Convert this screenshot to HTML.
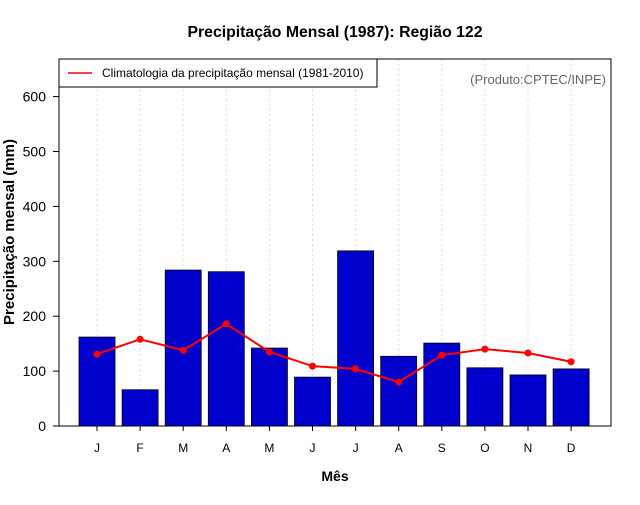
<!DOCTYPE html>
<html><head><meta charset="utf-8"><style>
body{margin:0;background:#fff;}
svg text{font-family:"Liberation Sans",sans-serif;}
</style></head><body>
<svg id="chart" width="640" height="500" xmlns="http://www.w3.org/2000/svg">
<rect width="640" height="500" fill="#fff"/>
<text x="335" y="37" text-anchor="middle" font-size="15.8" font-weight="bold">Precipitação Mensal (1987): Região 122</text>
<g id="grid"></g>
<g id="bars"></g>
<g id="line"></g>
<rect x="59" y="59" width="552" height="367" fill="none" stroke="#000" stroke-width="1"/>
<g id="yaxis"></g>
<g id="xaxis"></g>
<text x="14" y="232" text-anchor="middle" font-size="15" font-weight="bold" transform="rotate(-90 14 232)">Precipitação mensal (mm)</text>
<text x="335" y="481" text-anchor="middle" font-size="14" font-weight="bold">Mês</text>
<g>
<rect x="59" y="59" width="318" height="28" fill="#fff" stroke="#000"/>
<line x1="68" y1="73" x2="92" y2="73" stroke="red" stroke-width="1.5"/>
<text x="102" y="77" font-size="12">Climatologia da precipitação mensal (1981-2010)</text>
</g>
<text x="606" y="84" text-anchor="end" font-size="13" fill="#666">(Produto:CPTEC/INPE)</text>
</svg>
<script>
const months=["J","F","M","A","M","J","J","A","S","O","N","D"];
const observed=[162,66,284,281,142,89,319,127,151,106,93,104];
const climatology=[131,158,138,186,135,109,104,80,129,140,133,117];
const yTicks=[0,100,200,300,400,500,600];
const NS="http://www.w3.org/2000/svg";
const x=i=>97+i*43.1;
const y=v=>426-v*0.549;
function mk(t,a,p){const e=document.createElementNS(NS,t);for(const k in a)e.setAttribute(k,a[k]);p.appendChild(e);return e;}
const grid=document.getElementById('grid'),bars=document.getElementById('bars'),line=document.getElementById('line'),ya=document.getElementById('yaxis'),xa=document.getElementById('xaxis');
months.forEach((m,i)=>{
 const g=mk('line',{x1:x(i),x2:x(i),y1:59,y2:426,stroke:'#ddd','stroke-dasharray':'2,3'},grid);
 
 
 const b=mk('rect',{x:x(i)-18,y:y(observed[i]),width:36,height:observed[i]*0.549,fill:'#0000cd',stroke:'#000','stroke-width':0.8},bars);
 
 
 const tk=mk('line',{x1:x(i),x2:x(i),y1:426,y2:431,stroke:'#000'},xa);
 
 
 const t=mk('text',{x:x(i),y:452,'text-anchor':'middle','font-size':12},xa);t.textContent=m;
 
 
});
const pl=mk('polyline',{points:climatology.map((v,i)=>x(i)+','+y(v)).join(' '),fill:'none',stroke:'red','stroke-width':2},line);


climatology.forEach((v,i)=>{const c=mk('circle',{cx:x(i),cy:y(v),r:3.5,fill:'red'},line);
 
 });
yTicks.forEach(v=>{
 const tk=mk('line',{x1:53,x2:59,y1:y(v),y2:y(v),stroke:'#000'},ya);
 
 
 const t=mk('text',{x:46,y:y(v)+5,'text-anchor':'end','font-size':14},ya);t.textContent=v;
 
 
});
</script>
</body></html>
